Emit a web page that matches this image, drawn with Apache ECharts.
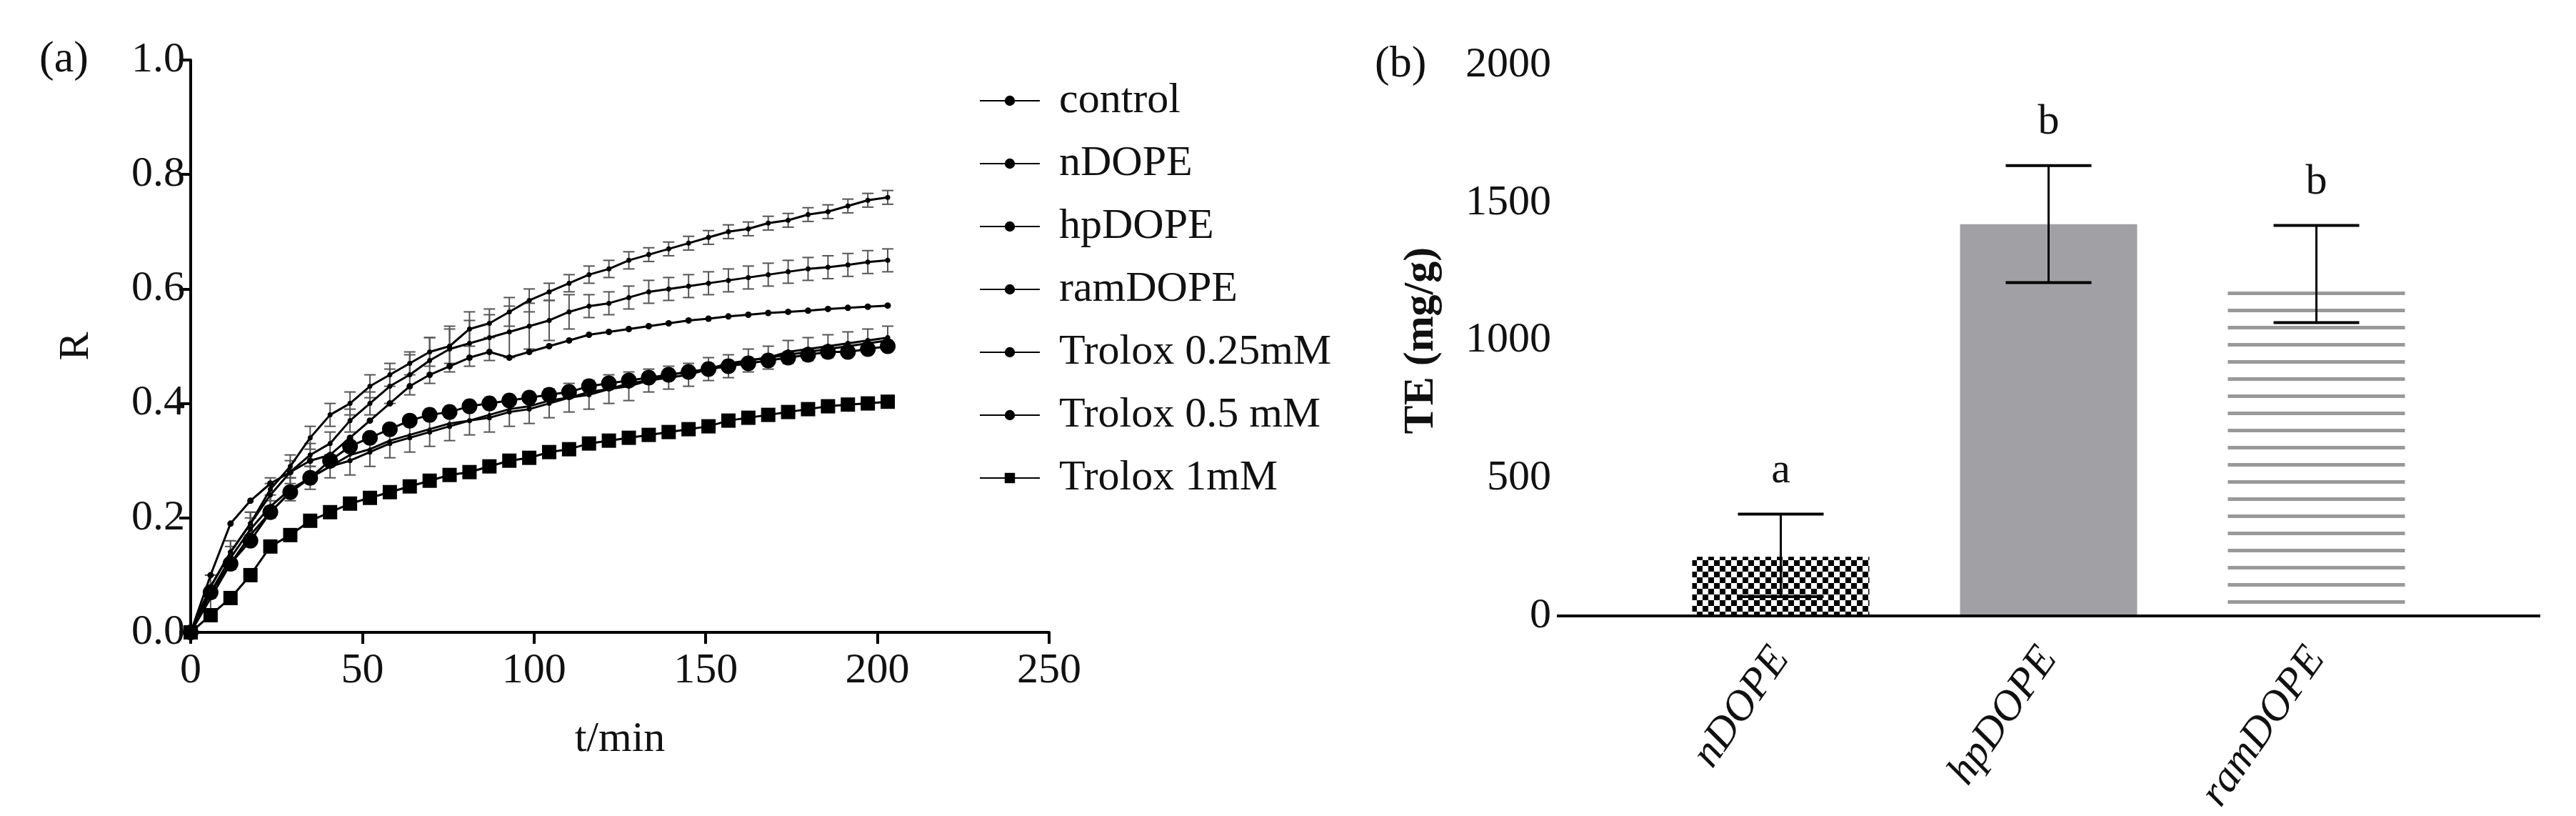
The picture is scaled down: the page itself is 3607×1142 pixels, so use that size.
<!DOCTYPE html>
<html><head><meta charset="utf-8">
<script src="https://cdn.jsdelivr.net/npm/echarts@6/dist/echarts.min.js"></script>
<style>html,body{margin:0;background:#fff}#c{width:3607px;height:1142px}</style>
</head><body><div id="c"></div>
<script>
const times=[0,5.8,11.6,17.4,23.2,29,34.8,40.6,46.4,52.2,58,63.8,69.6,75.4,81.2,87,92.8,98.6,104.4,110.2,116,121.8,127.6,133.4,139.2,145,150.8,156.6,162.4,168.2,174,179.8,185.6,191.4,197.2,203];
const hpDOPE=[0,0.08,0.14,0.19,0.25,0.29,0.34,0.38,0.40,0.43,0.45,0.47,0.49,0.50,0.53,0.54,0.56,0.58,0.595,0.61,0.625,0.635,0.65,0.66,0.67,0.68,0.69,0.70,0.705,0.715,0.72,0.73,0.735,0.745,0.755,0.76];
const hpErr=[0,0.02,0.02,0.02,0.02,0.02,0.02,0.02,0.02,0.02,0.02,0.02,0.025,0.03,0.03,0.025,0.025,0.02,0.015,0.015,0.015,0.015,0.015,0.012,0.012,0.012,0.012,0.012,0.012,0.012,0.012,0.012,0.012,0.012,0.012,0.012];
const ramDOPE=[0,0.08,0.14,0.19,0.24,0.28,0.31,0.33,0.37,0.40,0.43,0.45,0.475,0.495,0.505,0.515,0.525,0.535,0.545,0.56,0.57,0.575,0.585,0.595,0.60,0.605,0.61,0.615,0.62,0.625,0.63,0.635,0.638,0.642,0.647,0.65];
const ramErr=[0,0.02,0.02,0.02,0.02,0.02,0.02,0.02,0.02,0.02,0.03,0.035,0.04,0.04,0.04,0.04,0.045,0.04,0.035,0.03,0.02,0.02,0.02,0.02,0.02,0.02,0.02,0.02,0.02,0.02,0.02,0.02,0.02,0.02,0.02,0.02];
const nDOPE=[0,0.10,0.19,0.23,0.26,0.28,0.30,0.31,0.34,0.37,0.40,0.43,0.45,0.465,0.48,0.49,0.48,0.49,0.50,0.51,0.52,0.525,0.53,0.535,0.54,0.545,0.548,0.552,0.555,0.558,0.56,0.562,0.565,0.567,0.569,0.571];
const trolox05=[0,0.07,0.12,0.16,0.21,0.245,0.27,0.30,0.325,0.34,0.355,0.37,0.38,0.385,0.395,0.40,0.405,0.41,0.415,0.42,0.43,0.435,0.44,0.445,0.45,0.455,0.46,0.465,0.47,0.475,0.48,0.485,0.49,0.49,0.495,0.50];
const control=[0,0.07,0.13,0.18,0.22,0.25,0.27,0.29,0.30,0.315,0.33,0.34,0.35,0.36,0.37,0.375,0.385,0.39,0.40,0.41,0.415,0.425,0.43,0.44,0.445,0.45,0.46,0.465,0.475,0.48,0.49,0.495,0.50,0.505,0.51,0.515];
const controlErr=[0,0.03,0.02,0.02,0.02,0.02,0.02,0.02,0.025,0.025,0.025,0.025,0.025,0.025,0.025,0.025,0.025,0.025,0.025,0.025,0.025,0.025,0.025,0.02,0.02,0.02,0.02,0.02,0.02,0.02,0.02,0.02,0.02,0.02,0.02,0.02];
const trolox025=[0,0.06,0.12,0.17,0.21,0.245,0.27,0.29,0.31,0.32,0.335,0.345,0.355,0.365,0.37,0.38,0.39,0.395,0.405,0.41,0.42,0.425,0.435,0.44,0.45,0.455,0.46,0.47,0.475,0.48,0.485,0.49,0.495,0.50,0.505,0.51];
const trolox1=[0,0.03,0.06,0.10,0.15,0.17,0.195,0.21,0.225,0.235,0.245,0.255,0.265,0.275,0.28,0.29,0.30,0.305,0.315,0.32,0.33,0.335,0.34,0.345,0.35,0.355,0.36,0.37,0.375,0.38,0.385,0.39,0.395,0.398,0.40,0.403];
const barCats=['nDOPE','hpDOPE','ramDOPE'];
const barVals=[215,1422,1190];
const barLow=[70,1210,1065];
const barHigh=[370,1635,1418];
const barLetters=['a','b','b'];

function pat(kind){
  const c=document.createElement('canvas');
  if(kind==='check'){c.width=16;c.height=16;const g=c.getContext('2d');g.fillStyle='#fff';g.fillRect(0,0,16,16);g.fillStyle='#000';g.fillRect(0,0,8,8);g.fillRect(8,8,8,8);}
  else{c.width=8;c.height=24;const g=c.getContext('2d');g.fillStyle='#fff';g.fillRect(0,0,8,24);g.fillStyle='#999';g.fillRect(0,0,8,5);}
  return {image:c,repeat:'repeat'};
}
const F='Liberation Serif';
const FS=60;
const ax={axisLine:{lineStyle:{color:'#000',width:4}},axisTick:{length:16,lineStyle:{color:'#000',width:4}},axisLabel:{color:'#111',fontFamily:F,fontSize:FS},splitLine:{show:false}};
function pts(a){return a.map((v,i)=>[times[i],v]);}
function errSeries(a,e){
  return {type:'custom',xAxisIndex:0,yAxisIndex:0,silent:true,z:1,data:a.map((v,i)=>[times[i],v-e[i],v+e[i]]),
    renderItem:(p,api)=>{const lo=api.coord([api.value(0),api.value(1)]);const hi=api.coord([api.value(0),api.value(2)]);
      if(hi[1]>=lo[1]-1)return;
      return {type:'group',children:[
        {type:'line',shape:{x1:lo[0],y1:lo[1],x2:hi[0],y2:hi[1]},style:{stroke:'#555',lineWidth:2}},
        {type:'line',shape:{x1:lo[0]-8,y1:lo[1],x2:lo[0]+8,y2:lo[1]},style:{stroke:'#555',lineWidth:2}},
        {type:'line',shape:{x1:hi[0]-8,y1:hi[1],x2:hi[0]+8,y2:hi[1]},style:{stroke:'#555',lineWidth:2}}]};}};
}
function line(name,a,sym,size){return {name,type:'line',xAxisIndex:0,yAxisIndex:0,data:pts(a),symbol:sym,symbolSize:size,showSymbol:true,z:3,
  lineStyle:{color:'#000',width:3},itemStyle:{color:'#000'},emphasis:{disabled:true}};}
const chart=echarts.init(document.getElementById('c'));
chart.setOption({
  animation:false,backgroundColor:'#fff',
  title:[{text:'(a)',left:50,top:48,textStyle:{fontFamily:F,fontSize:62,fontWeight:'normal',color:'#111'}},
         {text:'(b)',left:1920,top:55,textStyle:{fontFamily:F,fontSize:62,fontWeight:'normal',color:'#111'}}],
  grid:[{left:267,right:2138,top:84,bottom:257},{left:2306,width:1125,top:91,bottom:257}],
  legend:{orient:'vertical',left:1366,top:106,itemWidth:84,itemHeight:18,itemGap:28,
    textStyle:{fontFamily:F,fontSize:FS,color:'#111',padding:[0,0,0,22]},
    data:['control','nDOPE','hpDOPE','ramDOPE','Trolox 0.25mM','Trolox 0.5 mM','Trolox 1mM']},
  xAxis:[Object.assign({},ax,{type:'value',gridIndex:0,min:0,max:250,interval:50,name:'t/min',nameLocation:'middle',nameGap:120,nameTextStyle:{fontFamily:F,fontSize:FS,color:'#111'},axisLabel:Object.assign({},ax.axisLabel,{margin:24})}),
         Object.assign({},ax,{type:'category',gridIndex:1,data:barCats,axisLine:{show:false},axisTick:{alignWithLabel:true,length:30,lineStyle:{color:'#000',width:4}},axisLabel:Object.assign({},ax.axisLabel,{rotate:55,margin:50,fontStyle:'italic'})})],
  yAxis:[Object.assign({},ax,{type:'value',gridIndex:0,min:0,max:1,interval:0.2,name:'R',nameLocation:'middle',nameGap:130,nameTextStyle:{fontFamily:F,fontSize:FS,color:'#111'},axisLabel:Object.assign({},ax.axisLabel,{formatter:v=>v.toFixed(1)})}),
         Object.assign({},ax,{type:'value',gridIndex:1,min:0,max:2000,interval:500,offset:126,name:'TE (mg/g)',nameLocation:'middle',nameGap:160,nameTextStyle:{fontFamily:F,fontSize:FS,fontWeight:'bold',color:'#111'},axisLabel:Object.assign({},ax.axisLabel,{formatter:v=>String(v)})})],
  graphic:[],
  series:[
    errSeries(hpDOPE,hpErr),errSeries(ramDOPE,ramErr),errSeries(control,controlErr),
    line('control',control,'circle',7),
    line('nDOPE',nDOPE,'circle',9),
    line('hpDOPE',hpDOPE,'circle',7),
    line('ramDOPE',ramDOPE,'circle',7),
    line('Trolox 0.25mM',trolox025,'circle',5),
    line('Trolox 0.5 mM',trolox05,'circle',22),
    line('Trolox 1mM',trolox1,'rect',20),
    {type:'bar',xAxisIndex:1,yAxisIndex:1,barWidth:248,z:2,
     data:barVals.map((v,i)=>({value:v,itemStyle:{color:i===0?pat('check'):i===1?'#a1a1a5':pat('lines')}}))},
    {type:'custom',xAxisIndex:1,yAxisIndex:1,z:5,silent:true,data:barCats.map((c,i)=>[i,barLow[i],barHigh[i]]),
     renderItem:(p,api)=>{const lo=api.coord([api.value(0),api.value(1)]);const hi=api.coord([api.value(0),api.value(2)]);
       return {type:'group',children:[
        {type:'line',shape:{x1:lo[0],y1:lo[1],x2:hi[0],y2:hi[1]},style:{stroke:'#000',lineWidth:3}},
        {type:'line',shape:{x1:lo[0]-60,y1:lo[1],x2:lo[0]+60,y2:lo[1]},style:{stroke:'#000',lineWidth:4}},
        {type:'line',shape:{x1:hi[0]-60,y1:hi[1],x2:hi[0]+60,y2:hi[1]},style:{stroke:'#000',lineWidth:4}},
        {type:'text',style:{text:barLetters[p.dataIndex],x:hi[0],y:hi[1]-30,align:'center',verticalAlign:'bottom',font:'60px "Liberation Serif"',fill:'#111'}}]};}}
  ]
});
const y0=chart.convertToPixel({xAxisIndex:1,yAxisIndex:1},[0,0])[1];
chart.setOption({graphic:[{type:'line',z:10,shape:{x1:2180,y1:y0,x2:3557,y2:y0},style:{stroke:'#000',lineWidth:4}}]});
</script></body></html>
